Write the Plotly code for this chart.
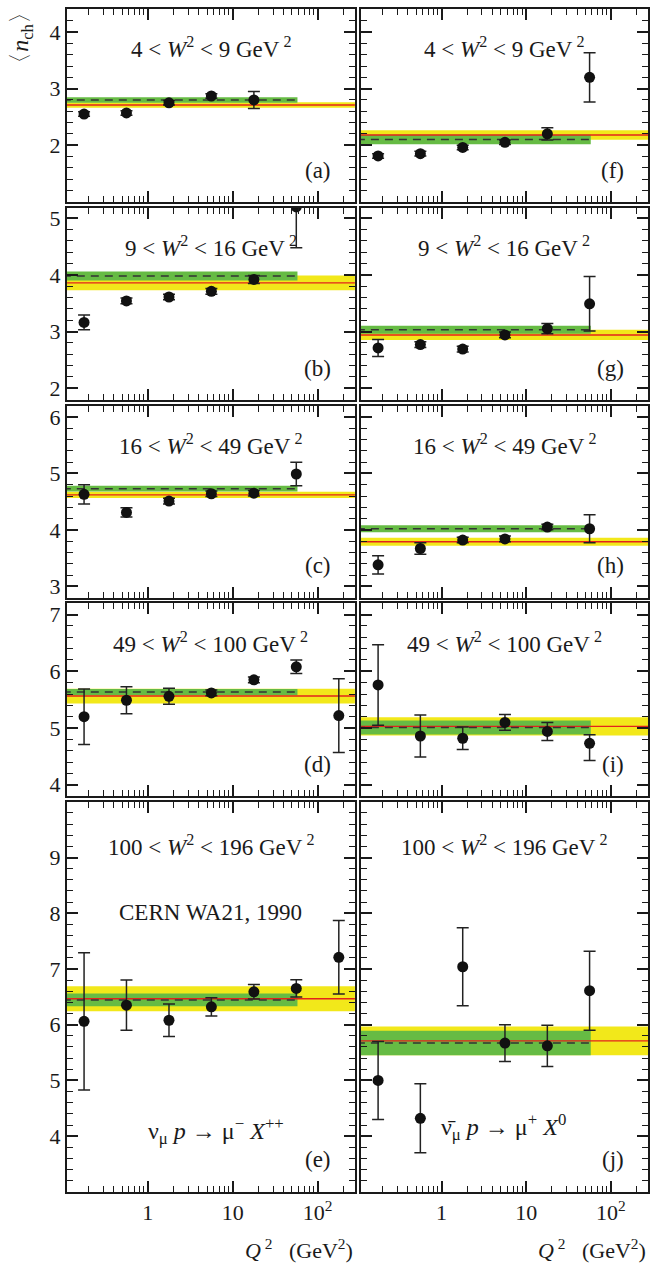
import plotly.graph_objects as go

# ---------------- data ----------------
Q2 = [0.178, 0.562, 1.78, 5.62, 17.8, 56.2, 178]

nch_a = [2.55, 2.57, 2.75, 2.87, 2.80]
err_a = [0.04, 0.04, 0.04, 0.04, 0.15]
nch_b = [3.16, 3.54, 3.61, 3.71, 3.92, 5.20]
err_b = [0.13, 0.05, 0.05, 0.05, 0.07, 0.72]
nch_c = [4.63, 4.31, 4.51, 4.64, 4.65, 4.99]
err_c = [0.17, 0.08, 0.05, 0.05, 0.05, 0.21]
nch_d = [5.20, 5.49, 5.56, 5.62, 5.85, 6.08, 5.22]
err_d = [0.49, 0.24, 0.14, 0.05, 0.05, 0.12, 0.65]
nch_e = [6.06, 6.35, 6.08, 6.32, 6.59, 6.65, 7.21]
err_e = [1.23, 0.45, 0.29, 0.165, 0.13, 0.155, 0.66]
nch_f = [1.81, 1.85, 1.96, 2.05, 2.20, 3.20]
err_f = [0.04, 0.04, 0.04, 0.04, 0.11, 0.435]
nch_g = [2.71, 2.77, 2.69, 2.94, 3.05, 3.49]
err_g = [0.15, 0.05, 0.05, 0.05, 0.09, 0.48]
nch_h = [3.38, 3.67, 3.82, 3.84, 4.05, 4.02]
err_h = [0.16, 0.10, 0.05, 0.05, 0.05, 0.25]
nch_i = [5.76, 4.86, 4.82, 5.10, 4.94, 4.73]
err_i = [0.71, 0.37, 0.20, 0.14, 0.16, 0.15]
errm_i = [0.71, 0.37, 0.20, 0.14, 0.16, 0.30]
nch_j = [5.00, 4.32, 7.04, 5.67, 5.62, 6.61]
err_j = [0.70, 0.62, 0.70, 0.33, 0.37, 0.71]

panel_letters = ["a", "b", "c", "d", "e", "f", "g", "h", "i", "j"]
nch_all = [nch_a, nch_b, nch_c, nch_d, nch_e, nch_f, nch_g, nch_h, nch_i, nch_j]
errp_all = [err_a, err_b, err_c, err_d, err_e, err_f, err_g, err_h, err_i, err_j]
errm_all = [err_a, err_b, err_c, err_d, err_e, err_f, err_g, err_h, errm_i, err_j]

green_c = [2.80, 3.98, 4.73, 5.635, 6.445, 2.10, 3.03, 4.02, 5.01, 5.67]
green_h = [0.05, 0.08, 0.05, 0.055, 0.113, 0.083, 0.07, 0.06, 0.125, 0.22]
yellow_c = [2.71, 3.86, 4.62, 5.565, 6.466, 2.18, 2.94, 3.79, 5.03, 5.71]
yellow_h = [0.05, 0.13, 0.055, 0.13, 0.223, 0.083, 0.09, 0.07, 0.16, 0.256]
green_end = 58
band_x = [0.1, 300]

w_lo = [4, 9, 16, 49, 100]
w_hi = [9, 16, 49, 100, 196]

y_ranges = [[0.99, 4.41], [1.79, 5.19], [2.8, 6.2], [3.8, 7.2], [3.0, 10.0]]
y_ticks = [[2, 3, 4], [2, 3, 4, 5], [3, 4, 5, 6], [4, 5, 6, 7], [4, 5, 6, 7, 8, 9]]
x_major = [0.1, 1, 10, 100]
x_major_text = ["", "1", "10", "10<sup>2</sup>"]
x_minor = [0.2, 0.3, 0.4, 0.5, 0.6, 0.7, 0.8, 0.9,
           2, 3, 4, 5, 6, 7, 8, 9, 20, 30, 40, 50, 60, 70, 80, 90, 200]

# ---------------- layout geometry ----------------
W, H = 650, 1267
x_dom = [[67 / W, 356 / W], [362 / W, 1.0]]
y_px = [(7, 200.7), (206, 399), (404.7, 597), (602.7, 796), (801.7, 1192.7)]
y_dom = [[1 - b / H, 1 - t / H] for t, b in y_px]

FONT = "Liberation Serif, Times New Roman, DejaVu Serif, serif"
INK = "#1a1a1a"
GREEN = "#66bb44"
YELLOW = "#f2e81a"
RED = "#e3231c"

fig = go.Figure()
layout = {}
annotations = []

for i, letter in enumerate(panel_letters):
    col, row = divmod(i, 5)
    n = i + 1
    xs = "x" if n == 1 else f"x{n}"
    ys = "y" if n == 1 else f"y{n}"
    xa = "xaxis" if n == 1 else f"xaxis{n}"
    ya = "yaxis" if n == 1 else f"yaxis{n}"

    yc, yh = yellow_c[i], yellow_h[i]
    gc, gh = green_c[i], green_h[i]
    x0, x1 = band_x
    # yellow band (full width)
    fig.add_trace(go.Scatter(x=[x0, x1, x1, x0], y=[yc - yh, yc - yh, yc + yh, yc + yh],
                             fill="toself", fillcolor=YELLOW, mode="none",
                             xaxis=xs, yaxis=ys, hoverinfo="skip", showlegend=False))
    # green band
    fig.add_trace(go.Scatter(x=[x0, green_end, green_end, x0], y=[gc - gh, gc - gh, gc + gh, gc + gh],
                             fill="toself", fillcolor=GREEN, mode="none",
                             xaxis=xs, yaxis=ys, hoverinfo="skip", showlegend=False))
    # red line
    fig.add_trace(go.Scatter(x=band_x, y=[yc, yc], mode="lines",
                             line=dict(color=RED, width=1.4),
                             xaxis=xs, yaxis=ys, hoverinfo="skip", showlegend=False))
    # dashed line
    fig.add_trace(go.Scatter(x=[x0, green_end], y=[gc, gc], mode="lines",
                             line=dict(color="#333333", width=1.5, dash="8px,6px"),
                             xaxis=xs, yaxis=ys, hoverinfo="skip", showlegend=False))
    # points
    vals = nch_all[i]
    fig.add_trace(go.Scatter(x=Q2[:len(vals)], y=vals, mode="markers",
                             marker=dict(color="#111111", size=11),
                             error_y=dict(type="data", array=errp_all[i], arrayminus=errm_all[i],
                                          symmetric=False, color="#222222", thickness=1.5, width=6),
                             xaxis=xs, yaxis=ys, showlegend=False))

    layout[xa] = dict(type="log", range=[-0.953, 2.44], domain=x_dom[col], anchor=ys,
                      showline=True, linecolor=INK, linewidth=2, mirror="allticks",
                      ticks="inside", ticklen=11, tickwidth=1.5, tickcolor=INK,
                      tickmode="array", tickvals=x_major, ticktext=x_major_text,
                      showticklabels=(row == 4),
                      tickfont=dict(family=FONT, size=22, color=INK),
                      minor=dict(ticks="inside", ticklen=6, tickwidth=1.2, tickcolor=INK,
                                 tickmode="array", tickvals=x_minor, showgrid=False),
                      showgrid=False, zeroline=False)
    layout[ya] = dict(range=y_ranges[row], domain=y_dom[row], anchor=xs,
                      showline=True, linecolor=INK, linewidth=2, mirror="allticks",
                      ticks="inside", ticklen=11, tickwidth=1.5, tickcolor=INK,
                      tickmode="array", tickvals=y_ticks[row],
                      showticklabels=(col == 0),
                      tickfont=dict(family=FONT, size=22, color=INK),
                      minor=dict(ticks="inside", ticklen=6, tickwidth=1.2, tickcolor=INK,
                                 tick0=0, dtick=0.2, showgrid=False),
                      showgrid=False, zeroline=False)

    # W^2 range label
    annotations.append(dict(
        text=f"{w_lo[row]} < <i>W</i><sup>2</sup> < {w_hi[row]} GeV<sup> 2</sup>",
        xref=f"{xs} domain", yref=f"{ys} domain", x=0.5, y=1,
        xanchor="center", yanchor="middle", yshift=-44 if row == 4 else -39,
        showarrow=False, font=dict(family=FONT, size=23, color=INK)))
    # panel letter
    annotations.append(dict(
        text=f"({letter})", xref=f"{xs} domain", yref=f"{ys} domain", x=1, y=0,
        xanchor="right", yanchor="middle", xshift=-22, yshift=32,
        showarrow=False, font=dict(family=FONT, size=23, color=INK)))

annotations.append(dict(text="CERN WA21, 1990", xref="x5 domain", yref="y5 domain",
                        x=0.5, y=1, xanchor="center", yanchor="middle", yshift=-111,
                        showarrow=False, font=dict(family=FONT, size=23, color=INK)))
annotations.append(dict(text="ν<sub>μ</sub> <i>p</i> → μ<sup>−</sup> <i>X</i><sup>++</sup>",
                        xref="x5 domain", yref="y5 domain", x=0.5, y=0,
                        xanchor="center", yanchor="middle", xshift=5, yshift=61,
                        showarrow=False, font=dict(family=FONT, size=24, color=INK)))
annotations.append(dict(text="ν\u0304<sub>μ</sub> <i>p</i> → μ<sup>+</sup> <i>X</i><sup>0</sup>",
                        xref="x10 domain", yref="y10 domain", x=0, y=0,
                        xanchor="left", yanchor="middle", xshift=78, yshift=65,
                        showarrow=False, font=dict(family=FONT, size=24, color=INK)))
# axis titles
annotations.append(dict(text="〈<i>n</i><sub>ch</sub>〉", xref="paper", yref="paper",
                        x=22 / W, y=1 - 36 / H, xanchor="center", yanchor="middle",
                        textangle=-90, showarrow=False,
                        font=dict(family=FONT, size=24, color=INK)))
for xr in [356 / W, 650 / W]:
    annotations.append(dict(text="<i>Q</i><sup> 2</sup>   (GeV<sup>2</sup>)", xref="paper", yref="paper",
                            x=xr, y=1 - 1250 / H, xanchor="right", yanchor="middle",
                            showarrow=False, font=dict(family=FONT, size=22, color=INK)))

fig.update_layout(width=W, height=H, margin=dict(l=0, r=0, t=0, b=0),
                  paper_bgcolor="white", plot_bgcolor="white",
                  annotations=annotations, **layout)

fig.write_html("out.html")
